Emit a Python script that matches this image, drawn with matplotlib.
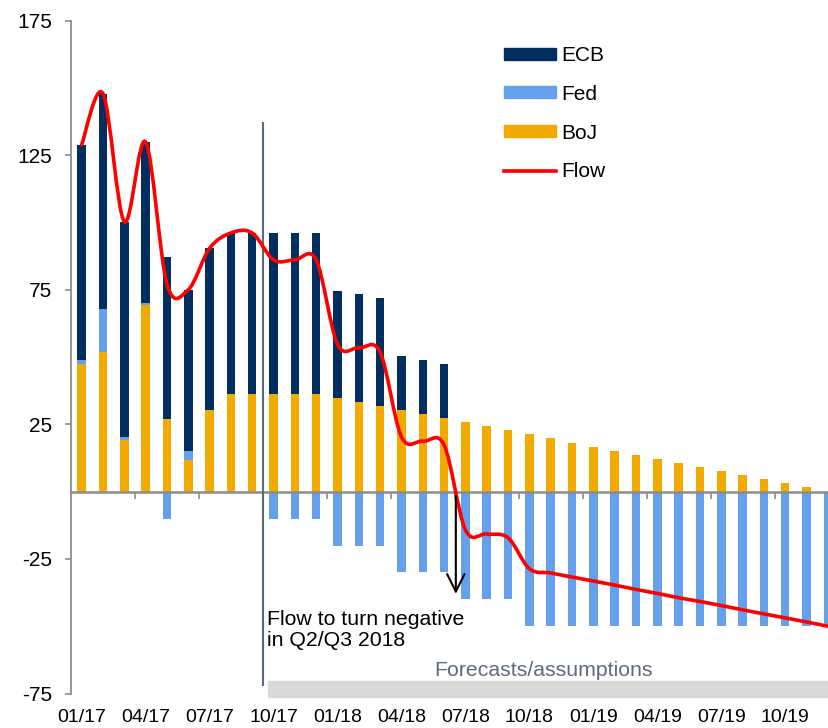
import numpy as np
import matplotlib
matplotlib.use("Agg")
import matplotlib.pyplot as plt
from matplotlib.path import Path
from matplotlib.patches import PathPatch, Patch, Rectangle
from matplotlib.lines import Line2D

plt.rcParams['font.family'] = ['Liberation Sans', 'DejaVu Sans']
plt.rcParams['axes.unicode_minus'] = False

# --- DATA (monthly, 01/17 .. 12/19) ---
months = [f"{m:02d}/{y}" for y in (17, 18, 19) for m in range(1, 13)]
tick_labels = ["01/17", "04/17", "07/17", "10/17", "01/18", "04/18",
               "07/18", "10/18", "01/19", "04/19", "07/19", "10/19"]

boj = [47.5, 52.0, 19.2, 69.6, 27.2, 11.7, 30.5, 36.2, 36.2, 36.2, 36.2, 36.2,
       34.8, 33.5, 31.9, 30.4, 28.8, 27.4, 25.8, 24.3, 22.9, 21.4, 19.8, 18.3,
       16.8, 15.3, 13.7, 12.2, 10.6, 9.2, 7.7, 6.1, 4.6, 3.1, 1.6, 0.0]
fed = [1.5, 16.0, 1.2, 0.4, -10, 3.4, 0, 0, 0, -10, -10, -10,
       -20, -20, -20, -30, -30, -30, -40, -40, -40, -50, -50, -50,
       -50, -50, -50, -50, -50, -50, -50, -50, -50, -50, -50, -50]
ecb = [80, 80, 80, 60, 60, 60, 60, 60, 60, 60, 60, 60,
       40, 40, 40, 20, 20, 20, 0, 0, 0, 0, 0, 0,
       0, 0, 0, 0, 0, 0, 0, 0, 0, 0, 0, 0]
flow = [129.0, 148.0, 100.4, 130.0, 77.2, 75.1, 90.5, 96.2, 96.2, 86.2, 86.2, 86.2,
        54.8, 53.5, 51.9, 20.4, 18.8, 17.4, -14.2, -15.7, -17.1, -28.6, -30.2, -31.7,
        -33.2, -34.7, -36.3, -37.8, -39.4, -40.8, -42.3, -43.9, -45.4, -46.9, -48.4, -50.0]

C_ECB = '#002F5F'
C_FED = '#64A0EB'
C_BOJ = '#F2AA00'
C_FLOW = '#FF0000'
GREY = '#8c8c8c'

# --- FIGURE ---
fig = plt.figure(figsize=(8.29, 7.28), dpi=100)
ax = fig.add_axes([71 / 829, 1 - 693.5 / 728, 36 * 21.32 / 829, 672.5 / 728])

x = np.arange(len(months))
boj_a = np.array(boj)
fed_a = np.array(fed)
fed_pos = np.clip(fed_a, 0, None)
fed_neg = np.clip(fed_a, None, 0)
w = 0.4

ax.bar(x, boj_a, w, color=C_BOJ, zorder=2)
ax.bar(x, fed_pos, w, bottom=boj_a, color=C_FED, zorder=2)
ax.bar(x, fed_neg, w, color=C_FED, zorder=2)
ax.bar(x, ecb, w, bottom=boj_a + fed_pos, color=C_ECB, zorder=2)

# smoothed flow line (Excel-style bezier through the monthly points)
pts = np.column_stack([x, flow]).astype(float)
verts = [pts[0]]
codes = [Path.MOVETO]
n = len(pts)
for i in range(n - 1):
    p0 = pts[i - 1] if i > 0 else pts[i]
    p1, p2 = pts[i], pts[i + 1]
    p3 = pts[i + 2] if i + 2 < n else pts[i + 1]
    verts += [p1 + (p2 - p0) / 6, p2 - (p3 - p1) / 6, p2]
    codes += [Path.CURVE4] * 3
ax.add_patch(PathPatch(Path(verts, codes), fill=False, edgecolor=C_FLOW,
                       lw=2.6, zorder=5, capstyle='round'))

ax.set_xlim(-0.5, 35.5)
ax.set_ylim(-75, 175)

# axes styling
for s in ['top', 'right']:
    ax.spines[s].set_visible(False)
ax.spines['left'].set_color(GREY)
ax.spines['left'].set_linewidth(1.3)
ax.spines['bottom'].set_position(('data', 0))
ax.spines['bottom'].set_color(GREY)
ax.spines['bottom'].set_linewidth(1.8)
ax.spines['bottom'].set_zorder(3)

ax.set_yticks([-75, -25, 25, 75, 125, 175])
ax.tick_params(axis='y', length=4, width=1.2, color=GREY, labelsize=15, pad=9.5)
ax.set_xticks(np.arange(2.5, 35, 3))
ax.set_xticklabels([])
ax.tick_params(axis='x', length=5, width=1.2, color=GREY, direction='out')

sec = ax.secondary_xaxis('bottom')
sec.set_xticks(np.arange(0, 36, 3), tick_labels)
sec.tick_params(length=0, labelsize=14, pad=11)
sec.spines['bottom'].set_visible(False)

# forecast marker
ax.vlines(8.5, -72.3, 137.6, color='#5b6b7b', lw=1.5, zorder=4)
ax.add_patch(Rectangle((8.75, -76.4), 30, 6.0, color='#d9d9d9', clip_on=False, zorder=1))
ax.text(21.64, -66.5, 'Forecasts/assumptions', ha='center', va='center',
        fontsize=15.3, color='#5f6b7a')

ax.annotate('', xy=(17.55, -39), xytext=(17.55, -0.5),
            arrowprops=dict(arrowstyle='->,head_length=0.9,head_width=0.45',
                            color='black', lw=1.5, mutation_scale=14), zorder=6)
ax.text(8.69, -44.0, 'Flow to turn negative\nin Q2/Q3 2018', ha='left', va='top',
        fontsize=15.3, color='black', linespacing=1.1)

handles = [Patch(color=C_ECB), Patch(color=C_FED), Patch(color=C_BOJ),
           Line2D([], [], color=C_FLOW, lw=2.6)]
fig.legend(handles, ['ECB', 'Fed', 'BoJ', 'Flow'], loc='upper left',
           bbox_to_anchor=(504 / 829, 1 - 46 / 728), bbox_transform=fig.transFigure,
           frameon=False, fontsize=15, handlelength=2.5, handleheight=0.5,
           handletextpad=0.25, labelspacing=0.95, borderpad=0, borderaxespad=0)

fig.savefig('out.png', dpi=100)
